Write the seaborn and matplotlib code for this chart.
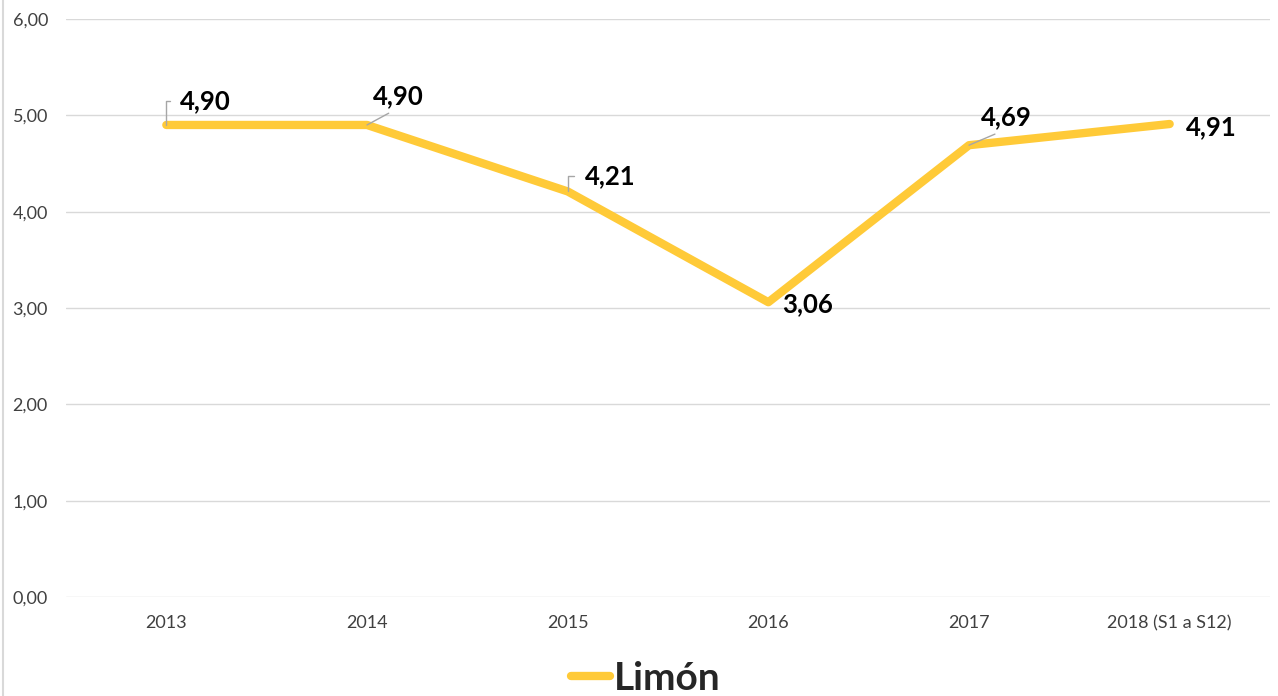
import matplotlib
matplotlib.use("Agg")
import matplotlib.pyplot as plt
from matplotlib.lines import Line2D
import seaborn as sns
import pandas as pd

years = ["2013", "2014", "2015", "2016", "2017", "2018 (S1 a S12)"]
limon = [4.90, 4.90, 4.21, 3.06, 4.69, 4.91]
value_labels = ["4,90", "4,90", "4,21", "3,06", "4,69", "4,91"]
y_ticks = [0, 1, 2, 3, 4, 5, 6]
y_tick_labels = ["0,00", "1,00", "2,00", "3,00", "4,00", "5,00", "6,00"]

sns.set_theme(style="white")
plt.rcParams['font.family'] = ['Lato', 'DejaVu Sans']

df = pd.DataFrame({"Año": years, "Limón": limon})

fig = plt.figure(figsize=(12.78, 6.96), dpi=100)
ax = fig.add_axes([66/1278, 1-597/696, (1270-66)/1278, (597-19)/696])

color = "#FFCA38"
sns.lineplot(data=df, x="Año", y="Limón", ax=ax, color=color, linewidth=6,
             sort=False, solid_capstyle="round", label="Limón", legend=False)

ax.set_xlim(-0.5, 5.5)
ax.set_ylim(0, 6)
ax.set_yticks(y_ticks)
ax.set_yticklabels(y_tick_labels)
ax.yaxis.grid(True, color="#d9d9d9", linewidth=1)
ax.set_axisbelow(True)
for s in ax.spines.values():
    s.set_visible(False)
ax.tick_params(axis="y", length=0, pad=13, labelsize=13, labelcolor="#404040")
ax.tick_params(axis="x", length=0, pad=13, labelsize=13, labelcolor="#404040")
ax.set_xlabel("")
ax.set_ylabel("")

# data labels: (dx, dy) offsets in pixels, leader style
offsets = [(14, 24, "elbow"), (6, 29, "diag"), (17, 15, "elbow"),
           (14, -2, None), (12, 28, "diag"), (16, -3, None)]
for i, (v, lab, (dx, dy, style)) in enumerate(zip(limon, value_labels, offsets)):
    kw = dict(textcoords="offset pixels", ha="left", va="center",
              fontsize=18.5, fontweight="bold", color="black")
    if style == "elbow":
        kw["arrowprops"] = dict(arrowstyle="-", color="#a6a6a6", lw=1,
                                connectionstyle="angle,angleA=0,angleB=90,rad=0",
                                relpos=(0, 0.5), shrinkA=5, shrinkB=0)
    elif style == "diag":
        kw["arrowprops"] = dict(arrowstyle="-", color="#a6a6a6", lw=1,
                                relpos=(0.5, 0), shrinkA=3, shrinkB=0)
    ax.annotate(lab, xy=(i, v), xytext=(dx, dy), **kw)

# left frame line
fig.add_artist(Line2D([3/1278, 3/1278], [0, 1], transform=fig.transFigure,
                      color="#d9d9d9", linewidth=1.5))

handle = Line2D([], [], color=color, linewidth=6, solid_capstyle="round")
fig.legend([handle], ["Limón"], loc="lower center", bbox_to_anchor=(0.505, -0.05),
           frameon=False, prop={"size": 28, "weight": "bold"},
           handlelength=1.0, handletextpad=0.1)

fig.savefig("out.png", dpi=100)
